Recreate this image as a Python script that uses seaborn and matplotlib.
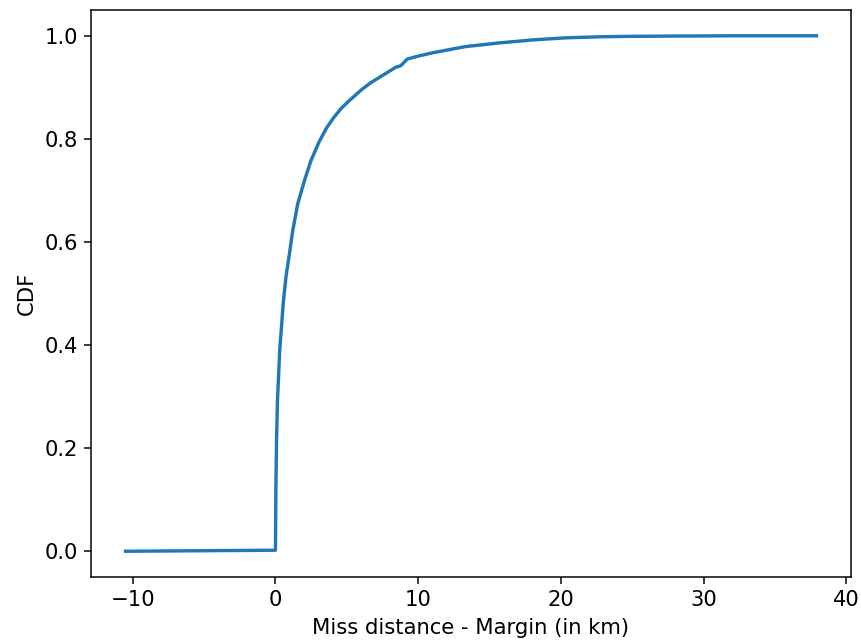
import matplotlib
matplotlib.use("Agg")
import matplotlib.pyplot as plt
import seaborn as sns
import pandas as pd

# Empirical CDF of (miss distance - margin), sampled along the curve
miss_minus_margin_km = [-10.5, 0.0, 0.03, 0.08, 0.14, 0.3, 0.56, 0.75, 0.98, 1.21,
                        1.56, 2.03, 2.49, 3.07, 3.6, 4.1, 4.6, 5.2, 6.1, 6.68, 7.26,
                        8.43, 8.78, 9.24, 10.06, 11.0, 13.3, 15.6, 18.0, 20.3,
                        22.6, 24.9, 28.0, 32.0, 37.9]
cdf_values = [0.0, 0.002, 0.12, 0.22, 0.29, 0.39, 0.486, 0.535, 0.577, 0.622,
              0.674, 0.719, 0.758, 0.795, 0.822, 0.842, 0.859, 0.875, 0.897, 0.909, 0.919,
              0.939, 0.942, 0.955, 0.961, 0.967, 0.979, 0.986, 0.992, 0.996,
              0.998, 0.999, 0.9995, 1.0, 1.0]

df = pd.DataFrame({"x": miss_minus_margin_km, "cdf": cdf_values})

plt.rcParams["font.size"] = 11.3

dpi = 135
fig = plt.figure(figsize=(861 / dpi, 643 / dpi), dpi=dpi)
ax = fig.add_axes([0.1057, 0.1026, 0.9884 - 0.1057, 0.9844 - 0.1026])

sns.lineplot(data=df, x="x", y="cdf", ax=ax, color="#1f77b4",
             linewidth=1.8, estimator=None, sort=True)

ax.set_xlabel("Miss distance - Margin (in km)")
ax.set_ylabel("CDF")

fig.savefig("out.png", dpi=dpi)
